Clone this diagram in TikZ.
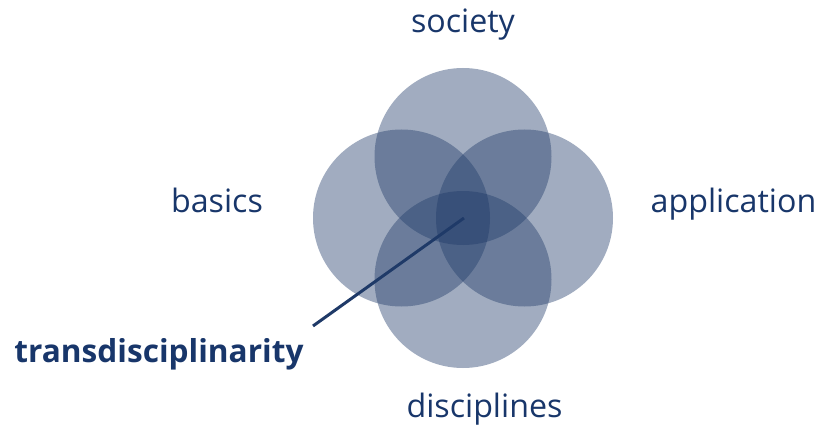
\documentclass[tikz,border=0pt]{standalone}
\usepackage{fontspec}
\setmainfont{Open Sans}
\definecolor{navy}{RGB}{31,58,104}
\definecolor{textnavy}{RGB}{24,54,106}
\tikzset{
  disc/.style={circle, inner sep=0pt, minimum size=177pt, fill=navy, fill opacity=0.42, draw=none},
  lbl/.style={anchor=base, text=textnavy, font=\fontsize{32.2}{38}\selectfont, inner sep=0pt},
  pointer/.style={draw=navy, line width=3pt}
}
\begin{document}
\begin{tikzpicture}[x=1pt,y=-1pt]
\useasboundingbox (0,0) rectangle (820,425);
\node[disc] (top) at (463,156.5) {};
\node[disc] (left) at (401.5,218) {};
\node[disc] (right) at (524.5,218) {};
\node[disc] (bottom) at (463,279.5) {};
\coordinate (hub) at (464,218);
\coordinate (tail) at (313,326);
\draw[pointer] (tail) -- (hub);
\node[lbl] (society) at (463,33) {society};
\node[lbl] (basics) at (217,212) {basics};
\node[lbl] (application) at (733.5,212) {application};
\node[lbl] (disciplines) at (484.5,417) {disciplines};
\node[lbl, font=\fontsize{31.6}{38}\selectfont\bfseries] (trans) at (159,362) {transdisciplinarity};
\end{tikzpicture}
\end{document}
